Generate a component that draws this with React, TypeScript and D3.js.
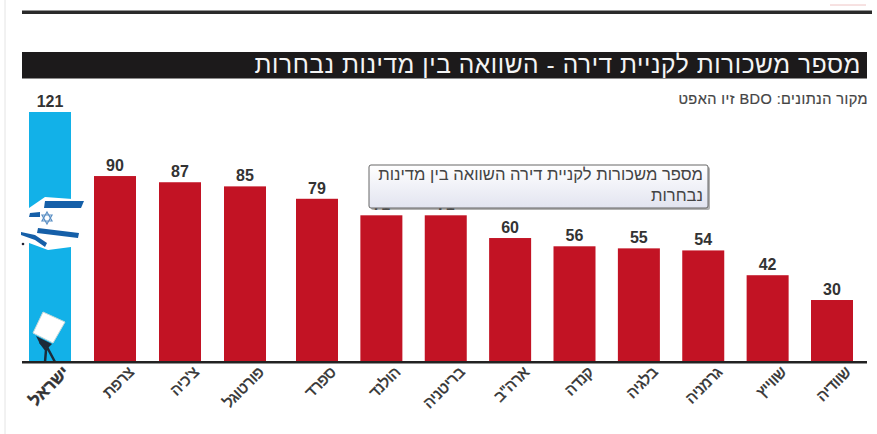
import React from "react";
import * as d3 from "d3";

const W = 877;
const H = 434;

const leftCategories = ["ישראל", "צרפת", "צ'כיה", "פורטוגל"];
const leftValues = [121, 90, 87, 85];
const rightCategories = ["ספרד", "הולנד", "בריטניה", "ארה\"ב", "קנדה", "בלגיה", "גרמניה", "שווייץ", "שוודיה"];
const rightValues = [79, 71, 71, 60, 56, 55, 54, 42, 30];

const titleText = "מספר משכורות לקניית דירה - השוואה בין מדינות נבחרות";
const sourceText = "מקור הנתונים: BDO זיו האפט";
const tooltipLines = ["מספר משכורות לקניית דירה השוואה בין מדינות", "נבחרות"];

const font = "'Liberation Sans', Arial, sans-serif";
const BAR_W = 42;

const y = d3.scaleLinear().domain([0, 121]).range([362, 112]);
const xLeft = d3.scalePoint<string>().domain(leftCategories).range([29, 224]);
const xRight = d3.scalePoint<string>().domain(rightCategories).range([296, 811]);

type Bar = { name: string; value: number; x: number };
const bars: Bar[] = [
  ...leftCategories.map((name, i) => ({ name, value: leftValues[i], x: xLeft(name) as number })),
  ...rightCategories.map((name, i) => ({ name, value: rightValues[i], x: xRight(name) as number })),
];

// Flag ribbon polygons and the box carried on the figure's back.
const flagWhite = "M45,197 L86,200 L78,210 L72,226 L71,247 L48,250 L21,240 L22,228 L29,208 Z";
const flagBlue = [
  "M45,201 L84,201 L81,208 L44,208 Z",
  "M30,213 L40,212 L40,217 L29,217 Z",
  "M38,228 L79,233 L78,238 L37,233 Z",
  "M21,232 L35,235 L47,243 L45,247 L35,240 L21,235 Z",
];

export default function App() {
  const [tx, ty, tw, th] = [369, 165, 339, 43];
  const gradient = "tooltipFill";
  return (
    <svg width={W} height={H} style={{ position: "absolute", left: 0, top: 0, background: "#fff" }}>
      <defs>
        <linearGradient id={gradient} x1="0" y1="0" x2="0" y2="1">
          <stop offset="0" stopColor="#ffffff" />
          <stop offset="1" stopColor="#e2e4f0" />
        </linearGradient>
      </defs>

      <line x1={5} y1={0} x2={5} y2={H} stroke="#e4e4e4" strokeWidth={1} />
      <line x1={830} y1={5} x2={866} y2={5} stroke="#eec4c4" strokeWidth={1} />
      <rect x={22} y={10.5} width={850} height={3.5} fill="#2a2a2a" />

      <rect x={22} y={52} width={845} height={26.5} fill="#1c1a1b" />
      <text x={861} y={73} direction="rtl" textAnchor="start" fill="#f4f4f4" fontFamily={font} fontSize={24.5} letterSpacing={0.56}>
        {titleText}
      </text>
      <text x={868} y={104} direction="rtl" textAnchor="start" fill="#444" stroke="#444" strokeWidth={0.2} fontFamily={font} fontSize={14.5} letterSpacing={0.45}>
        {sourceText}
      </text>

      {bars.map((b, i) => (
        <g key={b.name}>
          <rect x={b.x} y={y(b.value)} width={BAR_W} height={y(0) - y(b.value)} fill={i === 0 ? "#12b1e8" : "#c21324"} />
          <text x={b.x + BAR_W / 2} y={y(b.value) - 5} textAnchor="middle" fill="#333" fontFamily={font} fontSize={16} fontWeight={700}>
            {b.value}
          </text>
          <text
            transform={`translate(${b.x + BAR_W / 2 + 20},${y(0) + 11}) rotate(-45)`}
            direction="rtl"
            textAnchor="start"
            fill="#333"
            fontFamily={font}
            fontSize={i === 0 ? 16.5 : 15.5}
            fontWeight={i === 0 ? 700 : 400}
            stroke="#333"
            strokeWidth={0.45}
          >
            {b.name}
          </text>
        </g>
      ))}

      <path d={flagWhite} fill="#fff" />
      {flagBlue.map((d) => (
        <path key={d} d={d} fill="#155fa8" />
      ))}
      <circle cx={23} cy={244} r={1.3} fill="#223" />
      <path d="M47,212 L52,221 L42,221 Z M47,224 L52,215 L42,215 Z" fill="none" stroke="#5a8fc4" strokeWidth={1.2} />

      <path d="M43,312 L65,322 L53,343 L33,333 Z" fill="#fff" stroke="#c6d8d8" strokeWidth={1} />
      <path d="M36,336 L52,344 L47,349 L40,344 Z" fill="#1c2b3a" />
      <path d="M40,342 L46,350 L45,362 M47,347 L55,362" fill="none" stroke="#1c2b3a" strokeWidth={2.5} />

      <rect x={22} y={361} width={845} height={2.5} fill="#222" />

      <rect x={tx + 2} y={ty + 2} width={tw} height={th} rx={2} fill="#666" opacity={0.5} />
      <rect x={tx} y={ty} width={tw} height={th} rx={2} fill={`url(#${gradient})`} stroke="#666" strokeWidth={1} />
      {tooltipLines.map((line, i) => (
        <text key={line} x={tx + tw - 5} y={ty + 15 + i * 21} direction="rtl" textAnchor="start" fill="#444" fontFamily={font} fontSize={16.6}>
          {line}
        </text>
      ))}
    </svg>
  );
}
